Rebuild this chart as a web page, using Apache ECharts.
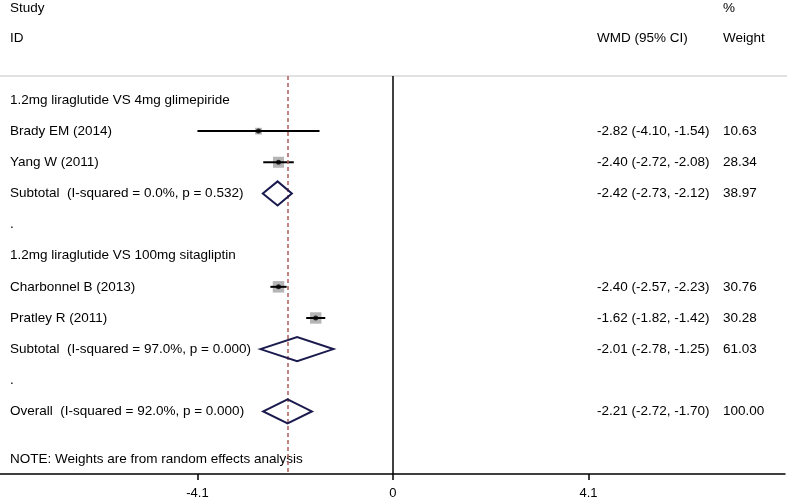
<!DOCTYPE html>
<html>
<head>
<meta charset="utf-8">
<script src="https://cdn.jsdelivr.net/npm/echarts@6/dist/echarts.min.js"></script>
<style>
html,body{margin:0;padding:0;background:#fff;}
#chart{width:787px;height:501px;}
</style>
</head>
<body>
<div id="chart"></div>
<script>
// ---- data ----
const rowLabels = [
  '1.2mg liraglutide VS 4mg glimepiride',
  'Brady EM (2014)',
  'Yang W (2011)',
  'Subtotal  (I-squared = 0.0%, p = 0.532)',
  '.',
  '1.2mg liraglutide VS 100mg sitagliptin',
  'Charbonnel B (2013)',
  'Pratley R (2011)',
  'Subtotal  (I-squared = 97.0%, p = 0.000)',
  '.',
  'Overall  (I-squared = 92.0%, p = 0.000)'
];
const rowKind = ['group','study','study','pooled','blank','group','study','study','pooled','blank','pooled'];
const estimate = [null, -2.82, -2.40, -2.42, null, null, -2.40, -1.62, -2.01, null, -2.21];
const lowerCI  = [null, -4.10, -2.72, -2.73, null, null, -2.57, -1.82, -2.78, null, -2.72];
const upperCI  = [null, -1.54, -2.08, -2.12, null, null, -2.23, -1.42, -1.25, null, -1.70];
const weightPct = [null, 10.63, 28.34, 38.97, null, null, 30.76, 30.28, 61.03, null, 100.00];
const overallEffect = -2.21;
const xTickValues = [-4.1, 0, 4.1];
const headerLeft = ['Study', 'ID'];
const headerCI = 'WMD (95% CI)';
const headerWeight = ['%', 'Weight'];
const noteText = 'NOTE: Weights are from random effects analysis';

// ---- layout / style ----
const FONT = '13.5px "Liberation Sans", Arial, sans-serif';
const LABEL_X = 10, CI_X = 597, WT_X = 723;
const X_MIN = -8.24, X_MAX = 8.22;
const Y_MIN = -0.77, Y_MAX = 12.01;

const chart = echarts.init(document.getElementById('chart'), null, {renderer: 'canvas'});

const studyIdx = rowKind.map((k, i) => k === 'study' ? i : -1).filter(i => i >= 0);
const pooledIdx = rowKind.map((k, i) => k === 'pooled' ? i : -1).filter(i => i >= 0);

const fmt = v => v.toFixed(2);
const txt = (x, y, t) => ({type: 'text', x: x, y: y, style: {text: t, font: FONT, fill: '#000', verticalAlign: 'middle'}});

const option = {
  backgroundColor: '#fff',
  animation: false,
  grid: {left: 0, right: 2, top: 76, bottom: 27},
  xAxis: {
    type: 'value', min: X_MIN, max: X_MAX,
    splitLine: {show: false},
    axisLine: {show: true, onZero: false, lineStyle: {color: '#000', width: 1.5}},
    axisTick: {show: true, length: 6, customValues: xTickValues, lineStyle: {color: '#000', width: 1.5}},
    axisLabel: {show: true, customValues: xTickValues, margin: 13, color: '#000',
      fontFamily: '"Liberation Sans", Arial, sans-serif', fontSize: 13,
      formatter: v => String(v)}
  },
  yAxis: {type: 'value', inverse: true, min: Y_MIN, max: Y_MAX, show: false},
  graphic: [
    {type: 'line', shape: {x1: 0, y1: 76, x2: 787, y2: 76}, style: {stroke: '#c4c4c4', lineWidth: 1}, z: 1},
    txt(LABEL_X, 8, headerLeft[0]),
    txt(LABEL_X, 38, headerLeft[1]),
    txt(CI_X, 38, headerCI),
    txt(WT_X, 8, headerWeight[0]),
    txt(WT_X, 38, headerWeight[1]),
    txt(LABEL_X, 459, noteText)
  ],
  series: [
    // reference lines
    {
      type: 'line', data: [], silent: true,
      markLine: {
        symbol: 'none', silent: true, label: {show: false},
        data: [
          {xAxis: 0, lineStyle: {color: '#000', width: 1.5, type: 'solid'}},
          {xAxis: overallEffect, lineStyle: {color: '#b05c5c', width: 1.5, type: [4, 3]}}
        ]
      },
      z: 2
    },
    // weight boxes
    {
      type: 'scatter', symbol: 'rect',
      data: studyIdx.map(i => ({value: [estimate[i], i], symbolSize: 2.07 * Math.sqrt(weightPct[i])})),
      itemStyle: {color: '#a3a3a3'},
      silent: true, z: 3
    },
    // CI lines
    {
      type: 'custom', silent: true, clip: false, z: 4,
      data: studyIdx.map(i => [lowerCI[i], upperCI[i], i]),
      renderItem: (params, api) => {
        const a = api.coord([api.value(0), api.value(2)]);
        const b = api.coord([api.value(1), api.value(2)]);
        return {type: 'line', shape: {x1: a[0], y1: a[1], x2: b[0], y2: b[1]},
          style: {stroke: '#000', lineWidth: 2}};
      }
    },
    // point estimates
    {
      type: 'scatter', symbol: 'circle', symbolSize: 5,
      data: studyIdx.map(i => [estimate[i], i]),
      itemStyle: {color: '#000'}, silent: true, z: 5
    },
    // diamonds
    {
      type: 'custom', silent: true, clip: false, z: 5,
      data: pooledIdx.map(i => [estimate[i], lowerCI[i], upperCI[i], i]),
      renderItem: (params, api) => {
        const r = api.value(3);
        const c = api.coord([api.value(0), r]);
        const l = api.coord([api.value(1), r]);
        const h = api.coord([api.value(2), r]);
        const hh = 12;
        return {type: 'polygon', shape: {points: [[l[0], l[1]], [c[0], c[1] - hh], [h[0], h[1]], [c[0], c[1] + hh]]},
          style: {stroke: '#1a1a4e', lineWidth: 2, fill: 'none'}};
      }
    },
    // text columns
    {
      type: 'custom', silent: true, clip: false, z: 6,
      data: rowLabels.map((_, i) => [0, i]),
      renderItem: (params, api) => {
        const i = api.value(1);
        const y = api.coord([0, i])[1];
        const kids = [txt(LABEL_X, y, rowLabels[i])];
        if (estimate[i] !== null) {
          kids.push(txt(CI_X, y, fmt(estimate[i]) + ' (' + fmt(lowerCI[i]) + ', ' + fmt(upperCI[i]) + ')'));
          kids.push(txt(WT_X, y, fmt(weightPct[i])));
        }
        return {type: 'group', children: kids};
      }
    }
  ]
};
chart.setOption(option);
</script>
</body>
</html>
